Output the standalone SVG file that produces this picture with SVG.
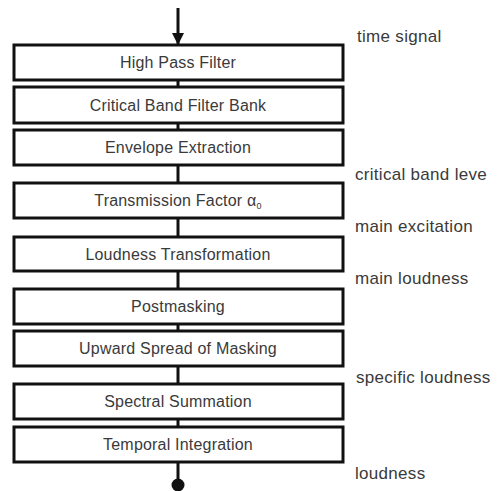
<svg xmlns="http://www.w3.org/2000/svg" width="497" height="491" viewBox="0 0 497 491">
<style>
.box rect{fill:#fff;stroke:#111;stroke-width:3}
.box text{font-family:"Liberation Sans",Arial,sans-serif;font-size:16px;letter-spacing:0.2px;fill:#3a3a3a;text-anchor:middle}
.lbl{font-family:"Liberation Sans",Arial,sans-serif;font-size:17px;letter-spacing:0.3px;fill:#3a3a3a}
.conn line{stroke:#111;stroke-width:3}
</style>
<defs>
<marker id="ah" markerWidth="12" markerHeight="12" viewBox="0 0 12 12" refX="12" refY="6" orient="auto" markerUnits="userSpaceOnUse">
<path d="M0,0 L12,6 L0,12 Z" fill="#111"/>
</marker>
</defs>
<rect width="497" height="491" fill="#fff"/>
<g id="connectors" class="conn">
<line x1="178" y1="8" x2="178" y2="45" marker-end="url(#ah)"/>
<line x1="178" y1="80" x2="178" y2="87"/>
<line x1="178" y1="123" x2="178" y2="130"/>
<line x1="178" y1="165" x2="178" y2="183"/>
<line x1="178" y1="218" x2="178" y2="237"/>
<line x1="178" y1="271" x2="178" y2="289"/>
<line x1="178" y1="324" x2="178" y2="331"/>
<line x1="178" y1="366" x2="178" y2="384"/>
<line x1="178" y1="419" x2="178" y2="427"/>
<line x1="178" y1="462" x2="178" y2="484"/>
<circle cx="178" cy="485" r="6.5" fill="#111"/>
</g>
<g id="n1" class="box"><rect x="14" y="45" width="329" height="35"/><text x="178" y="68">High Pass Filter</text></g>
<g id="n2" class="box"><rect x="14" y="87" width="329" height="36"/><text x="178" y="111">Critical Band Filter Bank</text></g>
<g id="n3" class="box"><rect x="14" y="130" width="329" height="35"/><text x="178" y="153">Envelope Extraction</text></g>
<g id="n4" class="box"><rect x="14" y="183" width="329" height="35"/><text x="178" y="206">Transmission Factor α<tspan font-size="9" dy="3">0</tspan></text></g>
<g id="n5" class="box"><rect x="14" y="237" width="329" height="34"/><text x="178" y="260">Loudness Transformation</text></g>
<g id="n6" class="box"><rect x="14" y="289" width="329" height="35"/><text x="178" y="312">Postmasking</text></g>
<g id="n7" class="box"><rect x="14" y="331" width="329" height="35"/><text x="178" y="354">Upward Spread of Masking</text></g>
<g id="n8" class="box"><rect x="14" y="384" width="329" height="35"/><text x="178" y="407">Spectral Summation</text></g>
<g id="n9" class="box"><rect x="14" y="427" width="329" height="35"/><text x="178" y="450">Temporal Integration</text></g>
<g id="labels">
<text class="lbl" x="357" y="42">time signal</text>
<text class="lbl" x="355" y="180">critical band leve</text>
<text class="lbl" x="355" y="232">main excitation</text>
<text class="lbl" x="355" y="284">main loudness</text>
<text class="lbl" x="356" y="383">specific loudness</text>
<text class="lbl" x="355" y="479">loudness</text>
</g>
</svg>
